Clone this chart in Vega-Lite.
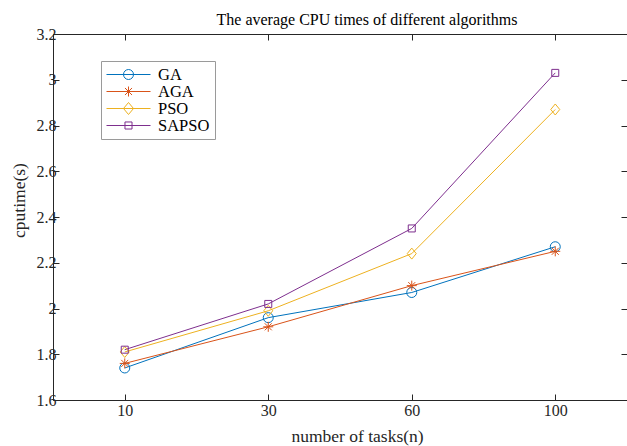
{
  "$schema": "https://vega.github.io/schema/vega-lite/v6.json",
  "width": 574,
  "height": 366,
  "autosize": "none",
  "padding": {"left": 53, "top": 34, "right": 0, "bottom": 46},
  "background": "white",
  "config": {
    "view": {"stroke": null},
    "font": "Liberation Serif",
    "axis": {"grid": false, "domainColor": "#262626", "tickColor": "#262626", "labelColor": "#262626", "titleColor": "#262626", "labelFont": "Liberation Serif", "titleFont": "Liberation Serif", "labelFontSize": 16, "titleFontSize": 16, "titleFontWeight": "normal", "domainWidth": 1, "tickWidth": 1}
  },
  "title": {"text": "The average CPU times of different algorithms", "font": "Liberation Serif", "fontSize": 16, "fontWeight": "normal", "color": "#000000", "anchor": "middle", "dx": 27, "dy": 26, "offset": 11, "baseline": "alphabetic"},
  "data": {"values": [
    {"tasks": 10, "alg": "GA", "cputime": 1.74},
    {"tasks": 30, "alg": "GA", "cputime": 1.96},
    {"tasks": 60, "alg": "GA", "cputime": 2.07},
    {"tasks": 100, "alg": "GA", "cputime": 2.27},
    {"tasks": 10, "alg": "AGA", "cputime": 1.76},
    {"tasks": 30, "alg": "AGA", "cputime": 1.92},
    {"tasks": 60, "alg": "AGA", "cputime": 2.10},
    {"tasks": 100, "alg": "AGA", "cputime": 2.25},
    {"tasks": 10, "alg": "PSO", "cputime": 1.81},
    {"tasks": 30, "alg": "PSO", "cputime": 1.99},
    {"tasks": 60, "alg": "PSO", "cputime": 2.24},
    {"tasks": 100, "alg": "PSO", "cputime": 2.87},
    {"tasks": 10, "alg": "SAPSO", "cputime": 1.82},
    {"tasks": 30, "alg": "SAPSO", "cputime": 2.02},
    {"tasks": 60, "alg": "SAPSO", "cputime": 2.35},
    {"tasks": 100, "alg": "SAPSO", "cputime": 3.03}
  ]},
  "resolve": {"axis": {"x": "independent", "y": "independent"}},
  "layer": [
    {
      "mark": {"type": "line", "strokeWidth": 1},
      "encoding": {
        "x": {"field": "tasks", "type": "ordinal", "sort": "ascending", "scale": {"type": "point", "padding": 0.5},
          "axis": {"orient": "bottom", "labelAngle": 0, "tickSize": -6, "labelPadding": 8, "title": "number of tasks(n)", "titleX": 304, "titleY": 41, "titleAlign": "center", "titleBaseline": "alphabetic", "titleFontSize": 17.5}},
        "y": {"field": "cputime", "type": "quantitative", "scale": {"domain": [1.6, 3.2], "nice": false, "zero": false},
          "axis": {"orient": "left", "values": [1.6, 1.8, 2.0, 2.2, 2.4, 2.6, 2.8, 3.0, 3.2], "format": ".1~f", "tickSize": -6, "labelPadding": 3, "title": "cputime(s)", "titleX": -34, "titleY": 166, "titleAlign": "center", "titleBaseline": "middle", "titleAngle": -90, "titleFontSize": 17.5}},
        "color": {"field": "alg", "type": "nominal",
          "scale": {"domain": ["GA", "AGA", "PSO", "SAPSO"], "range": ["#0072BD", "#D95319", "#EDB120", "#7E2F8E"]},
          "legend": {"orient": "none", "legendX": 48, "legendY": 27, "title": null, "strokeColor": "#9a9a9a", "fillColor": "white", "padding": 5, "symbolSize": 256, "symbolStrokeWidth": 1, "labelFont": "Liberation Serif", "labelFontSize": 16.5, "labelColor": "#000000", "labelOffset": 35, "rowPadding": 0,
            "encode": {"symbols": {"update": {
              "shape": {"signal": "datum.value === 'GA' ? 'M-1,0H4.5M1.125,0A0.625,0.625 0 1,1 2.375,0A0.625,0.625 0 1,1 1.125,0' : datum.value === 'AGA' ? 'M-1,0H4.5M1.75,-0.625V0.625M1.31,-0.44L2.19,0.44M1.31,0.44L2.19,-0.44' : datum.value === 'PSO' ? 'M-1,0H4.5M1.125,0L1.75,-0.75L2.375,0L1.75,0.75Z' : 'M-1,0H4.5M1.31,-0.44H2.19V0.44H1.31Z'"},
              "fill": {"value": "transparent"},
              "strokeWidth": {"value": 1}
            }}}}}
      }
    },
    {
      "transform": [{"filter": "datum.alg === 'GA'"}],
      "mark": {"type": "point", "filled": false, "strokeWidth": 1, "size": 100, "opacity": 1, "shape": "circle", "stroke": "#0072BD"},
      "encoding": {
        "x": {"field": "tasks", "type": "ordinal", "sort": "ascending", "axis": null},
        "y": {"field": "cputime", "type": "quantitative", "axis": null}
      }
    },
    {
      "transform": [{"filter": "datum.alg === 'AGA'"}],
      "mark": {"type": "point", "filled": false, "strokeWidth": 1, "size": 100, "opacity": 1, "shape": "M-1,0H1M0,-1V1M-0.7,-0.7L0.7,0.7M-0.7,0.7L0.7,-0.7", "stroke": "#D95319"},
      "encoding": {
        "x": {"field": "tasks", "type": "ordinal", "sort": "ascending", "axis": null},
        "y": {"field": "cputime", "type": "quantitative", "axis": null}
      }
    },
    {
      "transform": [{"filter": "datum.alg === 'PSO'"}],
      "mark": {"type": "point", "filled": false, "strokeWidth": 1, "size": 100, "opacity": 1, "shape": "M-0.9,0L0,-1.1L0.9,0L0,1.1Z", "stroke": "#EDB120"},
      "encoding": {
        "x": {"field": "tasks", "type": "ordinal", "sort": "ascending", "axis": null},
        "y": {"field": "cputime", "type": "quantitative", "axis": null}
      }
    },
    {
      "transform": [{"filter": "datum.alg === 'SAPSO'"}],
      "mark": {"type": "point", "filled": false, "strokeWidth": 1, "size": 100, "opacity": 1, "shape": "M-0.7,-0.7H0.7V0.7H-0.7Z", "stroke": "#7E2F8E"},
      "encoding": {
        "x": {"field": "tasks", "type": "ordinal", "sort": "ascending", "axis": null},
        "y": {"field": "cputime", "type": "quantitative", "axis": null}
      }
    },
    {
      "mark": {"type": "point", "opacity": 0},
      "encoding": {
        "x": {"field": "tasks", "type": "ordinal", "sort": "ascending", "axis": {"orient": "top", "labels": false, "title": null, "tickSize": -6}},
        "y": {"field": "cputime", "type": "quantitative", "axis": {"orient": "right", "labels": false, "title": null, "tickSize": -6, "values": [1.6, 1.8, 2.0, 2.2, 2.4, 2.6, 2.8, 3.0, 3.2]}}
      }
    }
  ]
}
